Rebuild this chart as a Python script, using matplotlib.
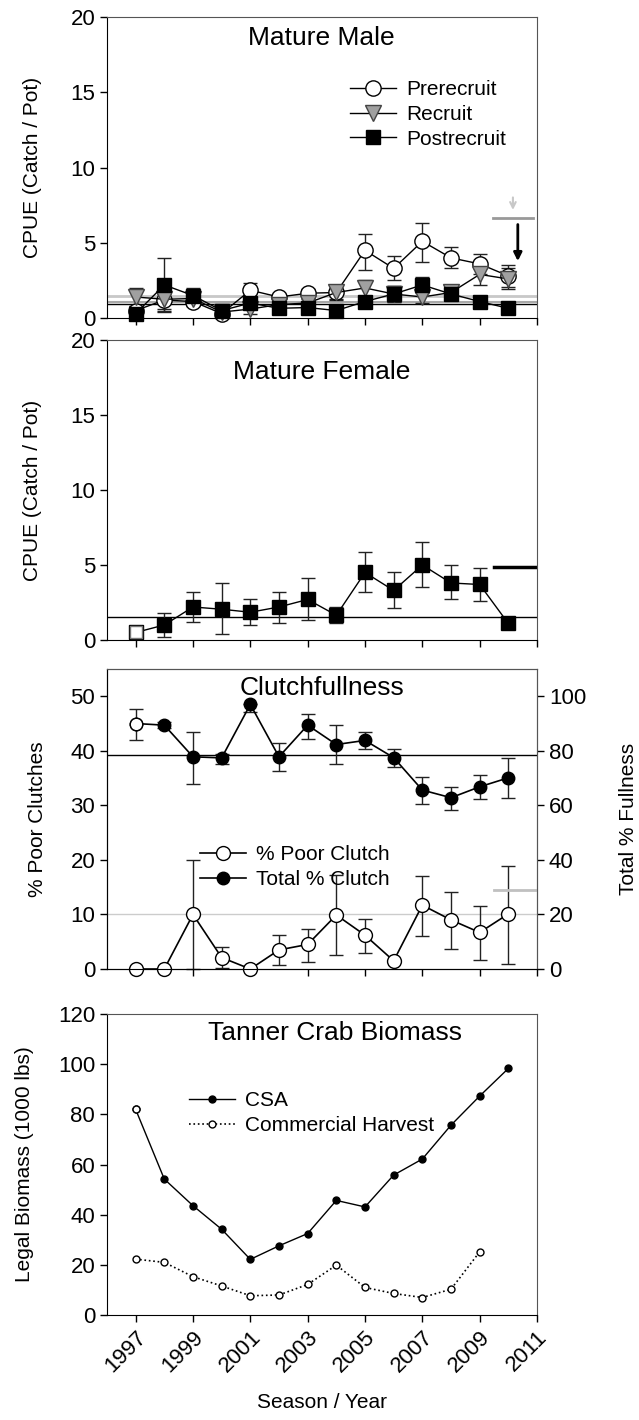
import numpy as np
import matplotlib
matplotlib.use("Agg")
import matplotlib.pyplot as plt

plt.rcParams['font.family'] = ['Liberation Sans', 'DejaVu Sans']

nan = np.nan
years = np.arange(1997, 2011)

# Mature male CPUE
pre = [0.5, 1.2, 1.1, 0.3, 1.85, 1.4, 1.65, 1.7, 4.5, 3.3, 5.1, 4.0, 3.6, 2.8]
pre_hi = [0.8, 1.6, 1.5, 0.5, 2.3, 1.6, 1.9, 2.1, 5.6, 4.1, 6.3, 4.7, 4.25, 3.5]
pre_lo = [0.2, 0.6, 0.8, 0.1, 1.4, 1.1, 1.35, 1.3, 3.2, 2.5, 3.7, 3.3, 2.9, 2.05]
rec = [1.4, 1.25, 1.3, 0.4, 0.6, 0.9, 1.0, 1.7, 2.0, 1.6, 1.4, 1.7, 2.9, 2.6]
rec_hi = [2.0, 1.8, 1.6, 0.6, 0.9, 1.1, 1.3, 2.2, 2.55, 2.1, 1.8, 2.1, 3.6, 3.3]
rec_lo = [0.8, 0.4, 1.0, 0.2, 0.3, 0.7, 0.7, 1.2, 1.5, 1.1, 1.0, 1.3, 2.2, 1.9]
post = [0.3, 2.2, 1.5, 0.5, 1.0, 0.65, 0.7, 0.5, 1.1, 1.6, 2.2, 1.6, 1.1, 0.65]
post_hi = [0.5, 4.0, 2.0, 0.7, 1.3, 0.9, 0.95, 0.7, 1.4, 2.1, 2.75, 2.0, 1.4, nan]
post_lo = [0.1, 0.5, 1.0, 0.3, 0.7, 0.4, 0.45, 0.3, 0.8, 1.1, 1.65, 1.2, 0.8, nan]
male_means = [1.5, 1.1, 0.93]
male_thresh = 6.65

# Mature female CPUE
fem = [0.5, 1.0, 2.2, 2.05, 1.85, 2.2, 2.7, 1.65, 4.5, 3.3, 5.0, 3.8, 3.7, 1.1]
fem_hi = [0.78, 1.8, 3.2, 3.8, 2.7, 3.2, 4.1, 2.2, 5.85, 4.5, 6.5, 5.0, 4.8, nan]
fem_lo = [0.22, 0.2, 1.2, 0.4, 1.0, 1.1, 1.33, 1.1, 3.2, 2.1, 3.5, 2.7, 2.6, nan]
fem_mean = 1.55
fem_thresh = 4.85

# Clutch fullness
poor = [0, 0, 10, 2.1, 0, 3.5, 4.5, 9.9, 6.2, 1.5, 11.7, 9.0, 6.7, 10.1]
poor_hi = [nan, nan, 20, 4.1, nan, 6.2, 7.3, 17.2, 9.1, nan, 17.1, 14.1, 11.5, 18.9]
poor_lo = [nan, nan, 0, 0.1, nan, 0.7, 1.3, 2.6, 3.0, nan, 6.1, 3.7, 1.7, 0.9]
total = [90, 89.4, 77.8, 77.4, 97, 77.8, 89.4, 82.3, 83.8, 77.5, 65.6, 62.8, 66.8, 70.1]
total_hi = [95.5, 90.5, 87, 79, 97, 82.7, 93.6, 89.4, 86.8, 80.5, 70.4, 66.8, 71, 77.2]
total_lo = [83.9, 88.3, 68, 75, 94.2, 72.5, 84.5, 75, 80.5, 74.2, 60.4, 58.3, 62.2, 62.8]
poor_mean = 10
total_mean = 78.3
poor_thresh = 14.4

# Biomass
csa = [82, 54.2, 43.6, 34.2, 22.2, 27.6, 32.5, 45.7, 43.1, 55.8, 62.2, 75.7, 87.3, 98.3]
harvest_years = np.arange(1997, 2010)
harvest = [22.3, 21.0, 15.3, 11.6, 7.7, 8.0, 12.2, 19.9, 11.0, 8.6, 7.0, 10.3, 25.2]

xticks = np.arange(1997, 2012, 2)

TICK = 16
LAB = 15
LEG = 15
TTL = 19


def errs(v, hi, lo):
    v = np.array(v, float)
    return [v - np.array(lo, float), np.array(hi, float) - v]


def ebar(ax, v, hi, lo):
    ax.errorbar(years, v, yerr=errs(v, hi, lo), fmt='none', capsize=5, elinewidth=1,
                capthick=1, ecolor='#222222', clip_on=False, zorder=2)


def style(ax):
    ax.set_xlim(1996, 2011)
    ax.set_xticks(xticks)
    ax.tick_params(direction='out', length=5, labelsize=TICK, width=1)
    for s in ['top', 'right']:
        ax.spines[s].set_color('#555555')


def legend(ax, handles, labels, x, y):
    ax.legend(handles, labels, loc='upper left', bbox_to_anchor=(x, y), frameon=False, fontsize=LEG,
              borderpad=0, borderaxespad=0, labelspacing=0.27, handlelength=2.2, handletextpad=0.5)


fig = plt.figure(figsize=(6.39, 14.2), dpi=100)
L, W = 0.1674, 0.673
ax1 = fig.add_axes([L, 0.776, W, 0.212])
ax2 = fig.add_axes([L, 0.5493, W, 0.2113])
ax3 = fig.add_axes([L, 0.3176, W, 0.2113])
ax4 = fig.add_axes([L, 0.0739, W, 0.212])

# panel 1
for y, c, lw in zip(male_means, ['#c8c8c8', '#a8a8a8', 'black'], [2, 1.5, 1]):
    ax1.axhline(y, color=c, lw=lw, zorder=1)
ebar(ax1, pre, pre_hi, pre_lo)
ebar(ax1, rec, rec_hi, rec_lo)
ebar(ax1, post, post_hi, post_lo)
h1, = ax1.plot(years, pre, '-o', color='black', lw=1, mfc='white', mec='black', ms=11, zorder=3, clip_on=False)
h2, = ax1.plot(years, rec, '-v', color='black', lw=1, mfc='#a0a0a0', mec='#444444', ms=11, zorder=4, clip_on=False)
h3, = ax1.plot(years, post, '-s', color='black', lw=1, mfc='black', mec='black', ms=10, zorder=5, clip_on=False)
ax1.plot([2009.45, 2010.85], [male_thresh, male_thresh], color='#999999', lw=2)
ax1.annotate('', xy=(2010.16, 7.0), xytext=(2010.16, 8.2),
             arrowprops=dict(arrowstyle='->', color='#c8c8c8', lw=1.5))
ax1.annotate('', xy=(2010.33, 3.6), xytext=(2010.33, 6.4),
             arrowprops=dict(arrowstyle='-|>', color='black', lw=2, mutation_scale=12))
ax1.set_ylim(0, 20)
ax1.set_yticks([0, 5, 10, 15, 20])
ax1.set_ylabel('CPUE (Catch / Pot)', fontsize=LAB)
ax1.yaxis.set_label_coords(-0.15, 0.5)
ax1.text(0.498, 0.93, 'Mature Male', transform=ax1.transAxes, ha='center', va='center', fontsize=TTL)
legend(ax1, [h1, h2, h3], ['Prerecruit', 'Recruit', 'Postrecruit'], 0.565, 0.79)
style(ax1)
ax1.set_xticklabels([])

# panel 2
ax2.axhline(fem_mean, color='black', lw=1, zorder=1)
ebar(ax2, fem, fem_hi, fem_lo)
ax2.plot(years, fem, '-s', color='black', lw=1, mfc='black', mec='black', ms=10, zorder=3, clip_on=False)
ax2.plot(years[0], fem[0], 's', mfc='white', mec='#777777', ms=9, zorder=4, clip_on=False)
ax2.plot([2009.5, 2011], [fem_thresh, fem_thresh], color='black', lw=2.5)
ax2.set_ylim(0, 20)
ax2.set_yticks([0, 5, 10, 15, 20])
ax2.set_ylabel('CPUE (Catch / Pot)', fontsize=LAB)
ax2.yaxis.set_label_coords(-0.15, 0.5)
ax2.text(0.5, 0.893, 'Mature Female', transform=ax2.transAxes, ha='center', va='center', fontsize=TTL)
style(ax2)
ax2.set_xticklabels([])

# panel 3
ax3b = ax3.twinx()
ax3.axhline(poor_mean, color='#cccccc', lw=1, zorder=1)
ax3b.axhline(total_mean, color='black', lw=1, zorder=1)
ebar(ax3, poor, poor_hi, poor_lo)
ebar(ax3b, total, total_hi, total_lo)
p1, = ax3.plot(years, poor, '-o', color='black', lw=1.2, mfc='white', mec='black', ms=10, zorder=3, clip_on=False)
p2, = ax3b.plot(years, total, '-o', color='black', lw=1.2, mfc='black', mec='black', ms=9, zorder=3)
ax3b.plot(years[0], total[0], 'o', mfc='white', mec='black', ms=9, zorder=4)
ax3.plot([2009.5, 2010.93], [poor_thresh, poor_thresh], color='#c0c0c0', lw=2)
ax3.set_ylim(0, 55)
ax3.set_yticks([0, 10, 20, 30, 40, 50])
ax3b.set_ylim(0, 110)
ax3b.set_yticks([0, 20, 40, 60, 80, 100])
ax3.set_ylabel('% Poor Clutches', fontsize=LAB)
ax3.yaxis.set_label_coords(-0.14, 0.5)
ax3b.set_ylabel('Total % Fullness', fontsize=LAB)
ax3b.yaxis.set_label_coords(1.19, 0.5)
ax3.text(0.5, 0.937, 'Clutchfullness', transform=ax3.transAxes, ha='center', va='center', fontsize=TTL)
legend(ax3, [p1, p2], ['% Poor Clutch', 'Total % Clutch'], 0.216, 0.412)
style(ax3)
style(ax3b)
ax3.set_xticklabels([])

# panel 4
c1, = ax4.plot(years, csa, '-o', color='black', lw=1, ms=5, mfc='black')
ax4.plot(years[0], csa[0], 'o', mfc='white', mec='black', ms=5)
c2, = ax4.plot(harvest_years, harvest, ':o', color='black', lw=1.2, ms=5, mfc='white', mec='black')
ax4.set_ylim(0, 120)
ax4.set_yticks(np.arange(0, 121, 20))
ax4.set_ylabel('Legal Biomass (1000 lbs)', fontsize=LAB)
ax4.yaxis.set_label_coords(-0.17, 0.5)
ax4.text(0.53, 0.937, 'Tanner Crab Biomass', transform=ax4.transAxes, ha='center', va='center', fontsize=TTL)
legend(ax4, [c1, c2], ['CSA', 'Commercial Harvest'], 0.19, 0.743)
style(ax4)
ax4.set_xticklabels([str(y) for y in xticks], rotation=45, ha='right', rotation_mode='anchor')
ax4.set_xlabel('Season / Year', fontsize=LAB, labelpad=12)

fig.savefig('out.png', dpi=100)
